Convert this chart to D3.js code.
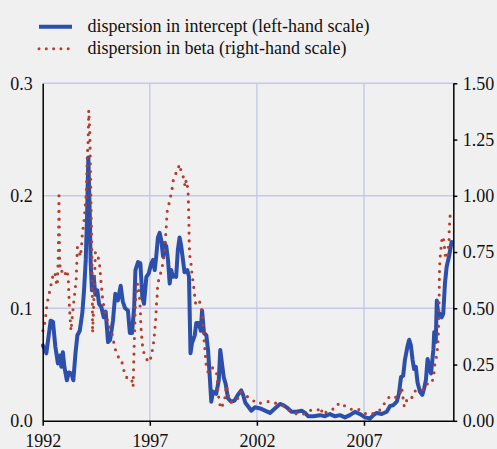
<!DOCTYPE html>
<html>
<head>
<meta charset="utf-8">
<script src="https://cdn.jsdelivr.net/npm/d3@7"></script>
<style>
  html, body { margin: 0; padding: 0; background: #f0f0f0; }
  svg { display: block; }
  text { font-family: "Liberation Serif", "Times New Roman", serif; }
</style>
</head>
<body>
<svg id="chart" width="497" height="449"></svg>
<script>
// ---- Data ----
const interceptYears = [1992.01,1992.17,1992.37,1992.48,1992.59,1992.71,1992.79,1992.87,1992.94,1993.02,1993.13,1993.22,1993.34,1993.43,1993.53,1993.62,1993.73,1993.85,1993.93,1994.01,1994.07,1994.13,1994.20,1994.24,1994.30,1994.38,1994.46,1994.55,1994.63,1994.74,1994.85,1994.94,1995.05,1995.15,1995.28,1995.39,1995.51,1995.64,1995.74,1995.85,1995.98,1996.07,1996.17,1996.27,1996.33,1996.45,1996.56,1996.65,1996.73,1996.84,1996.95,1997.07,1997.15,1997.23,1997.30,1997.38,1997.46,1997.54,1997.62,1997.69,1997.77,1997.85,1997.93,1998.00,1998.08,1998.16,1998.23,1998.31,1998.39,1998.47,1998.55,1998.62,1998.75,1998.83,1998.90,1998.97,1999.10,1999.17,1999.29,1999.38,1999.44,1999.53,1999.64,1999.72,1999.80,1999.87,1999.95,2000.10,2000.22,2000.29,2000.37,2000.45,2000.54,2000.65,2000.80,2000.96,2001.11,2001.27,2001.36,2001.46,2001.62,2001.74,2001.91,2002.15,2002.38,2002.61,2002.84,2003.08,2003.23,2003.39,2003.62,2003.85,2004.09,2004.25,2004.40,2004.64,2004.95,2005.18,2005.41,2005.65,2005.88,2006.11,2006.34,2006.58,2006.82,2007.05,2007.28,2007.44,2007.59,2007.83,2008.06,2008.21,2008.37,2008.53,2008.63,2008.73,2008.83,2008.91,2009.04,2009.11,2009.19,2009.27,2009.34,2009.42,2009.50,2009.61,2009.72,2009.81,2009.89,2009.97,2010.04,2010.13,2010.24,2010.28,2010.35,2010.40,2010.47,2010.55,2010.63,2010.70,2010.78,2010.86,2010.97,2011.09];
const interceptValues = [0.067,0.060,0.089,0.088,0.066,0.051,0.058,0.048,0.061,0.047,0.036,0.043,0.042,0.036,0.060,0.076,0.080,0.096,0.116,0.143,0.181,0.234,0.181,0.140,0.116,0.128,0.112,0.116,0.104,0.101,0.092,0.097,0.070,0.072,0.089,0.113,0.107,0.120,0.106,0.100,0.098,0.078,0.078,0.101,0.134,0.141,0.140,0.110,0.104,0.128,0.131,0.140,0.143,0.134,0.146,0.163,0.167,0.160,0.146,0.158,0.155,0.143,0.122,0.134,0.128,0.129,0.128,0.152,0.163,0.155,0.143,0.132,0.134,0.128,0.060,0.069,0.076,0.087,0.087,0.080,0.098,0.078,0.076,0.063,0.039,0.017,0.026,0.024,0.036,0.063,0.051,0.039,0.033,0.020,0.017,0.018,0.023,0.027,0.023,0.016,0.012,0.009,0.012,0.011,0.009,0.007,0.011,0.015,0.014,0.012,0.008,0.008,0.009,0.007,0.004,0.004,0.005,0.004,0.006,0.004,0.005,0.003,0.005,0.008,0.006,0.003,0.002,0.005,0.007,0.006,0.008,0.013,0.014,0.017,0.024,0.039,0.040,0.054,0.067,0.072,0.067,0.054,0.046,0.048,0.034,0.026,0.023,0.029,0.036,0.055,0.048,0.042,0.063,0.079,0.070,0.107,0.094,0.095,0.092,0.095,0.122,0.137,0.146,0.159];

const betaYears = [1992.01,1992.11,1992.19,1992.26,1992.34,1992.42,1992.49,1992.57,1992.62,1992.68,1992.73,1992.76,1992.79,1992.85,1992.96,1993.04,1993.12,1993.19,1993.25,1993.32,1993.43,1993.51,1993.56,1993.62,1993.68,1993.76,1993.81,1993.85,1993.92,1993.96,1994.01,1994.04,1994.06,1994.08,1994.12,1994.15,1994.20,1994.22,1994.27,1994.30,1994.33,1994.40,1994.46,1994.56,1994.65,1994.72,1994.79,1994.88,1995.01,1995.19,1995.29,1995.34,1995.53,1995.64,1995.76,1995.84,1995.99,1996.15,1996.22,1996.27,1996.32,1996.38,1996.45,1996.49,1996.53,1996.56,1996.58,1996.61,1996.65,1996.69,1996.79,1996.89,1997.00,1997.07,1997.15,1997.20,1997.23,1997.26,1997.29,1997.30,1997.34,1997.35,1997.38,1997.46,1997.57,1997.62,1997.69,1997.72,1997.74,1997.77,1997.79,1997.82,1997.88,1997.95,1998.03,1998.09,1998.21,1998.31,1998.37,1998.48,1998.59,1998.65,1998.70,1998.75,1998.79,1998.81,1998.83,1998.84,1998.88,1998.94,1998.97,1999.02,1999.07,1999.10,1999.15,1999.22,1999.33,1999.41,1999.45,1999.49,1999.52,1999.56,1999.61,1999.64,1999.72,1999.87,2000.10,2000.15,2000.18,2000.26,2000.34,2000.50,2000.58,2000.65,2000.74,2000.90,2001.04,2001.13,2001.23,2001.44,2001.74,2001.99,2002.33,2002.61,2002.95,2003.31,2003.51,2003.77,2004.16,2004.52,2004.84,2004.98,2005.07,2005.37,2005.72,2005.82,2006.11,2006.39,2006.70,2006.96,2007.24,2007.52,2007.79,2007.98,2008.21,2008.41,2008.65,2008.76,2008.80,2008.88,2008.96,2009.09,2009.22,2009.34,2009.61,2009.84,2010.00,2010.18,2010.26,2010.30,2010.38,2010.43,2010.46,2010.49,2010.51,2010.52,2010.55,2010.59,2010.62,2010.67,2010.73,2010.80,2010.86,2010.92,2010.97,2010.98,2011.02];
const betaValues = [0.40,0.44,0.51,0.55,0.58,0.62,0.65,0.66,0.62,0.60,0.74,1.00,0.70,0.66,0.67,0.65,0.67,0.64,0.50,0.40,0.51,0.58,0.62,0.77,0.77,0.73,0.77,0.83,0.88,0.92,0.98,1.03,1.10,1.17,1.24,1.38,1.28,1.17,0.88,0.73,0.39,0.57,0.75,0.74,0.70,0.62,0.55,0.49,0.45,0.40,0.37,0.33,0.284,0.28,0.24,0.20,0.187,0.187,0.15,0.33,0.50,0.60,0.61,0.57,0.536,0.49,0.43,0.387,0.343,0.313,0.284,0.269,0.261,0.291,0.328,0.365,0.40,0.432,0.469,0.506,0.543,0.58,0.612,0.642,0.676,0.713,0.743,0.787,0.824,0.861,0.899,0.936,0.958,0.987,1.024,1.066,1.099,1.106,1.14,1.106,1.076,1.04,1.07,1.047,1.01,0.95,0.86,0.78,0.72,0.69,0.65,0.62,0.58,0.55,0.513,0.521,0.528,0.491,0.454,0.417,0.38,0.33,0.276,0.239,0.217,0.239,0.224,0.183,0.13,0.076,0.054,0.10,0.158,0.12,0.084,0.084,0.099,0.10,0.128,0.113,0.099,0.076,0.081,0.087,0.076,0.064,0.047,0.032,0.029,0.047,0.047,0.061,0.027,0.047,0.057,0.079,0.066,0.051,0.054,0.036,0.027,0.036,0.051,0.081,0.11,0.103,0.109,0.148,0.118,0.064,0.091,0.085,0.099,0.132,0.136,0.14,0.172,0.172,0.202,0.247,0.284,0.321,0.358,0.43,0.55,0.65,0.72,0.76,0.795,0.82,0.80,0.73,0.72,0.76,0.795,0.85,0.91];

const yearTicks = [1992, 1997, 2002, 2007];
const leftTicks = [0, 0.1, 0.2, 0.3];
const rightTicks = [0, 0.25, 0.5, 0.75, 1.0, 1.25, 1.5];
const legendLabels = ["dispersion in intercept (left-hand scale)", "dispersion in beta (right-hand scale)"];

// ---- Layout ----
const BLUE = "#2b4fab", RED = "#b43d2c", GRID = "#c5c8ea";
const plotL = 42.7, plotR = 453.3, plotT = 83.3, plotB = 420.8;

const svg = d3.select("#chart");
svg.append("rect").attr("width", 497).attr("height", 449).attr("fill", "#f0f0f0");

const x = d3.scaleLinear().domain([1992, 2011.17]).range([plotL, plotR]);
const yL = d3.scaleLinear().domain([0, 0.3]).range([plotB, plotT]);
const yR = d3.scaleLinear().domain([0, 1.5]).range([plotB, plotT]);

// grid
const grid = svg.append("g");
grid.selectAll("line.h").data(leftTicks.filter(d => d > 0)).join("line")
  .attr("class", "h")
  .attr("x1", plotL).attr("x2", plotR)
  .attr("y1", d => yL(d)).attr("y2", d => yL(d))
  .attr("stroke", GRID).attr("stroke-width", 1.4);
grid.selectAll("line.v").data(yearTicks.filter(d => d > 1992)).join("line")
  .attr("class", "v")
  .attr("x1", d => x(d)).attr("x2", d => x(d))
  .attr("y1", plotT).attr("y2", plotB)
  .attr("stroke", GRID).attr("stroke-width", 1.4);

// series
const intercept = interceptYears.map((t, i) => [t, interceptValues[i]]);
const beta = betaYears.map((t, i) => [t, betaValues[i]]);

svg.append("path").datum(intercept)
  .attr("d", d3.line().x(d => x(d[0])).y(d => yL(d[1])))
  .attr("fill", "none").attr("stroke", BLUE).attr("stroke-width", 4)
  .attr("stroke-linejoin", "round").attr("stroke-linecap", "round");

svg.append("path").datum(beta)
  .attr("d", d3.line().x(d => x(d[0])).y(d => yR(d[1])))
  .attr("fill", "none").attr("stroke", RED).attr("stroke-width", 3.1)
  .attr("stroke-dasharray", "0 7.8").attr("stroke-linecap", "round");

// axes
const fontSize = 18;
const gx = svg.append("g").attr("transform", `translate(0,${plotB})`)
  .call(d3.axisBottom(x).tickValues(yearTicks).tickFormat(d3.format("d")).tickSize(5).tickSizeOuter(0));
gx.select(".domain").attr("stroke", "#000").attr("stroke-width", 1.5);
gx.selectAll(".tick line").attr("stroke", "#000").attr("stroke-width", 1.5);
gx.selectAll(".tick text").attr("y", 26.5).attr("dy", null)
  .style("font-size", fontSize + "px").style("font-family", '"Liberation Serif", serif').attr("fill", "#111");

const gl = svg.append("g").attr("transform", `translate(${plotL},0)`)
  .call(d3.axisLeft(yL).tickValues(leftTicks).tickFormat(d3.format(".1f")).tickSize(0).tickPadding(10).tickSizeOuter(0));
gl.select(".domain").attr("stroke", "#000").attr("stroke-width", 1.5);
gl.selectAll(".tick text").style("font-size", fontSize + "px").style("font-family", '"Liberation Serif", serif').attr("fill", "#111");

const gr = svg.append("g").attr("transform", `translate(${plotR},0)`)
  .call(d3.axisRight(yR).tickValues(rightTicks).tickFormat(d3.format(".2f")).tickSize(4).tickPadding(5.5).tickSizeOuter(0));
gr.select(".domain").attr("stroke", "#000").attr("stroke-width", 1.5);
gr.selectAll(".tick line").attr("stroke", "#000").attr("stroke-width", 1.5);
gr.selectAll(".tick text").style("font-size", fontSize + "px").style("font-family", '"Liberation Serif", serif').attr("fill", "#111");

// legend
const lg = svg.append("g");
lg.append("line").attr("x1", 39).attr("x2", 72).attr("y1", 26.7).attr("y2", 26.7)
  .attr("stroke", BLUE).attr("stroke-width", 4);
lg.append("line").attr("x1", 39).attr("x2", 72).attr("y1", 48.7).attr("y2", 48.7)
  .attr("stroke", RED).attr("stroke-width", 3).attr("stroke-dasharray", "0 7.3").attr("stroke-linecap", "round");
lg.selectAll("text").data(legendLabels).join("text")
  .attr("x", 87.5).attr("y", (d, i) => 32.3 + i * 22)
  .style("font-size", fontSize + "px").attr("fill", "#111")
  .text(d => d);
</script>
</body>
</html>
